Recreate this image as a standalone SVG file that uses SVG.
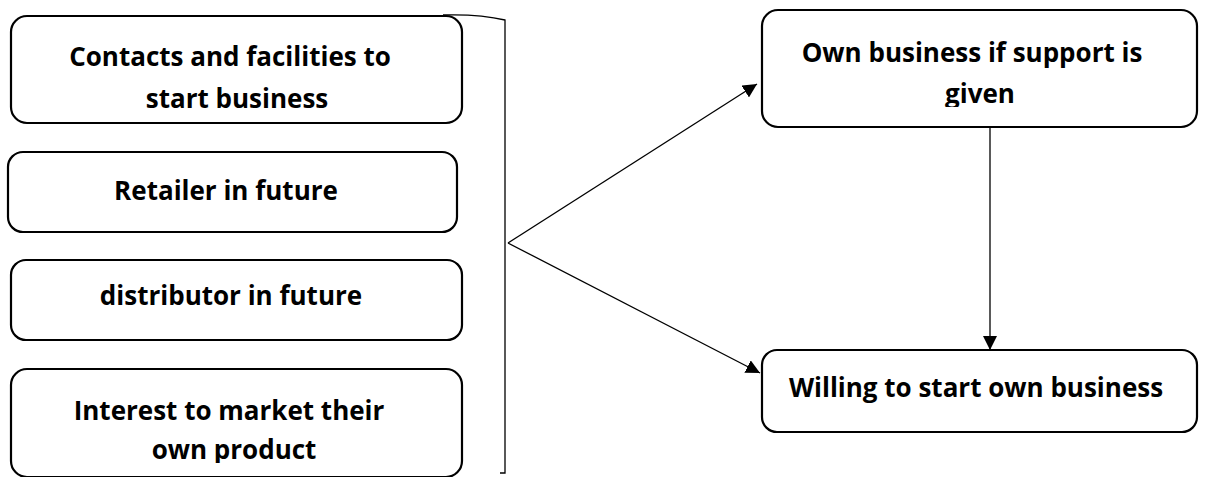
<svg xmlns="http://www.w3.org/2000/svg" width="1208" height="477" viewBox="0 0 1208 477">
<style>
.box{fill:#fff;stroke:#000;stroke-width:2.2}
.t{font-family:"Open Sans",Lato,sans-serif;font-weight:bold;font-size:26px;fill:#000;text-anchor:middle}
.c{fill:none;stroke:#000;stroke-width:1.3}
</style>
<defs>
<marker id="ah" viewBox="0 0 10 10" refX="10" refY="5" markerWidth="14" markerHeight="14" markerUnits="userSpaceOnUse" orient="auto">
<path d="M0,0 L10,5 L0,10 Z" fill="#000"/>
</marker>
<clipPath id="c4"><rect x="11" y="369" width="452" height="94"/></clipPath>
<clipPath id="c5"><rect x="762" y="10" width="436" height="97"/></clipPath>
</defs>
<g id="n1"><rect class="box" x="11" y="16" width="451" height="107" rx="16"/>
<text class="t" x="230" y="66">Contacts and facilities to</text>
<text class="t" x="237" y="108">start business</text></g>
<g id="n2"><rect class="box" x="8" y="152" width="449" height="80" rx="15"/>
<text class="t" x="226" y="200">Retailer in future</text></g>
<g id="n3"><rect class="box" x="11" y="260" width="451" height="80" rx="15"/>
<text class="t" x="231" y="305">distributor in future</text></g>
<g id="n4"><rect class="box" x="11" y="369" width="451" height="108" rx="16"/>
<g clip-path="url(#c4)">
<text class="t" x="229" y="420">Interest to market their</text>
<text class="t" x="234" y="459">own product</text></g></g>
<g id="n5"><rect class="box" x="762" y="10" width="435" height="117" rx="16"/>
<g clip-path="url(#c5)">
<text class="t" x="972" y="62">Own business if support is</text>
<text class="t" x="980" y="103">given</text></g></g>
<g id="n6"><rect class="box" x="762" y="350" width="435" height="82" rx="15"/>
<text class="t" x="976" y="397">Willing to start own business</text></g>
<g id="connectors">
<path class="c" d="M443,15 Q480,14 505,20 L505,473 L500,473"/>
<line class="c" x1="508" y1="243" x2="757" y2="84" marker-end="url(#ah)"/>
<line class="c" x1="508" y1="243" x2="760" y2="373" marker-end="url(#ah)"/>
<line class="c" x1="990" y1="127" x2="990" y2="350" marker-end="url(#ah)"/>
</g>
</svg>
